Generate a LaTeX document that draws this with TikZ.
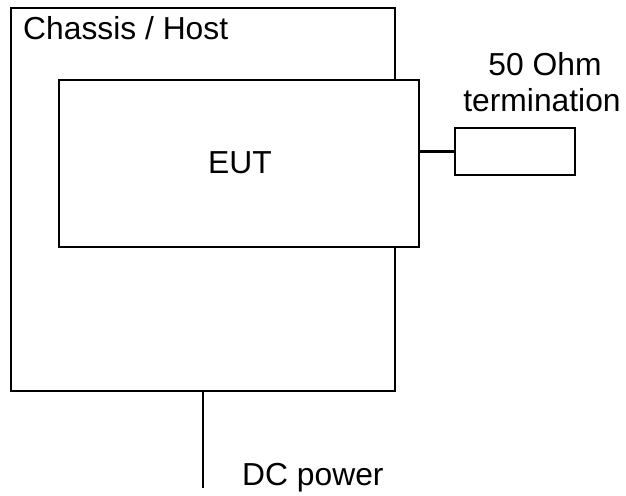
\documentclass[tikz,border=0pt]{standalone}
\usepackage{fontspec}
\setmainfont{Liberation Sans}
\begin{document}
\begin{tikzpicture}[x=1pt,y=-1pt,
  box/.style={draw=black,fill=white,line width=2.8pt,inner sep=0pt,outer sep=0pt,anchor=north west},
  wire/.style={draw=black,line width=2.8pt},
  lbl/.style={font=\fontsize{31.8}{40}\selectfont,inner sep=0pt,anchor=base},
]
\useasboundingbox[fill=white] (0,0) rectangle (626,495);
\node[box,minimum width=384pt,minimum height=383pt] (chassis) at (11,8) {};
\node[box,minimum width=360pt,minimum height=167pt] (eut) at (59,80) {};
\node[box,minimum width=120pt,minimum height=47pt] (term) at (455,128) {};
\node[lbl,anchor=base west] (chl) at (23,40) {Chassis / Host};
\node[lbl] (eutl) at (240,173) {EUT};
\node[lbl] (t1) at (545,75) {50 Ohm};
\node[lbl] (t2) at (542,111) {termination};
\node[lbl,anchor=base west] (dcl) at (242,485) {DC power};
\coordinate (dcend) at (203,488);
\draw[wire] (eut.east |- term.west) -- (term.west);
\draw[wire] (chassis.south -| dcend) -- (dcend);
\end{tikzpicture}
\end{document}
